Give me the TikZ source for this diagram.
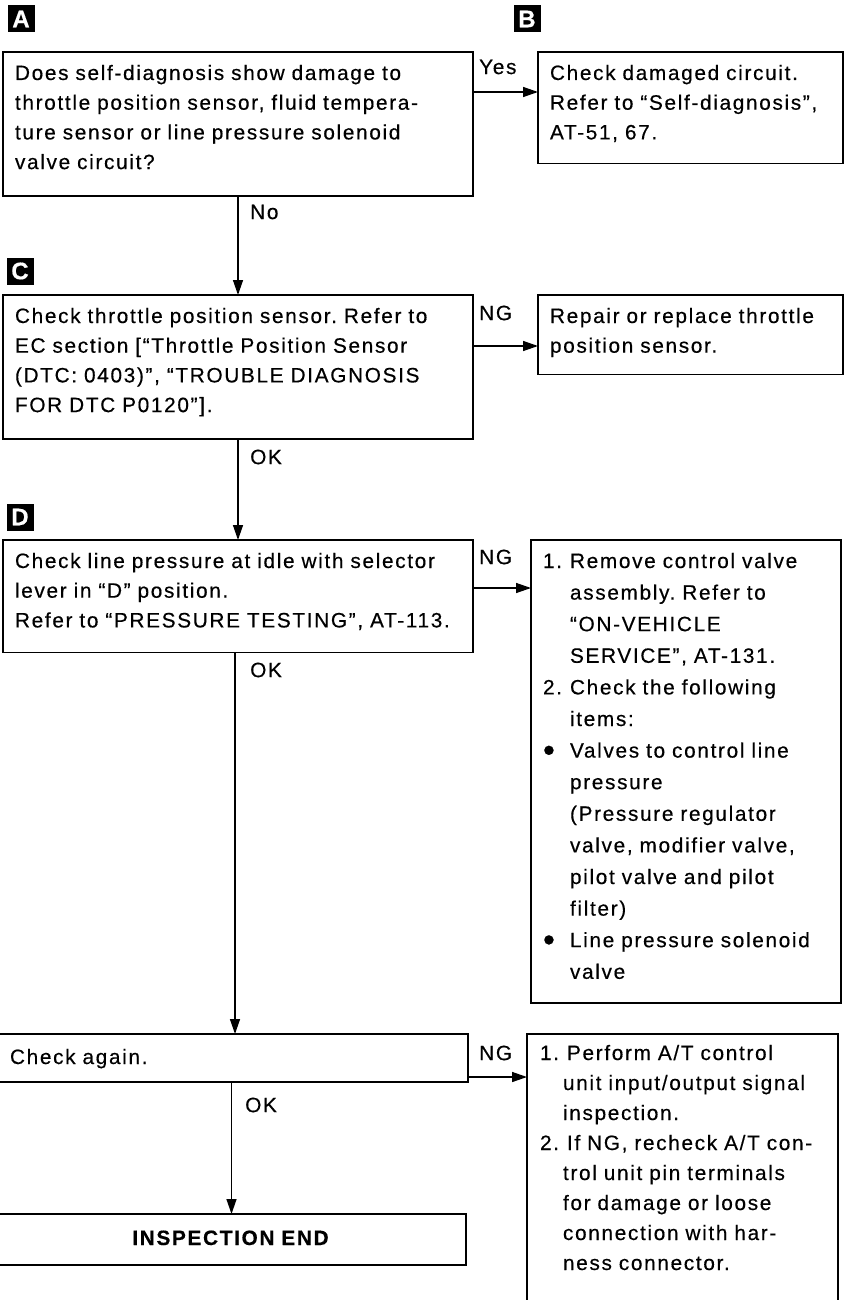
\documentclass[tikz,border=0pt]{standalone}
\usepackage{fontspec}
\setmainfont[LetterSpace=8,WordSpace=1.6,FakeBold=0.4]{Liberation Sans}
\usetikzlibrary{arrows.meta}
\frenchspacing
\newcommand{\itmE}{\makebox[27pt][l]}
\newcommand{\indE}{\hspace*{27pt}}
\newcommand{\itmF}{\makebox[27pt][l]}
\newcommand{\indF}{\hspace*{23pt}}
\newcommand{\bul}{\makebox[27pt][l]{\raisebox{-4pt}{\fontsize{34}{34}\selectfont •}}}
\newcommand{\tp}[1][28]{\rule{0pt}{#1pt}}
\newcommand{\bt}[1]{\rule[-#1pt]{0pt}{#1pt}}
\begin{document}
\begin{tikzpicture}[x=1pt,y=-1pt,
  every node/.style={font=\fontsize{20.8}{29.7}\selectfont},
  box/.style={draw, line width=1.4pt, anchor=north west, align=left, inner xsep=12pt, inner ysep=0pt, outer sep=0pt},
  lbl/.style={fill=black, text=white, minimum size=27pt, inner sep=0pt, font=\fontsize{24}{24}\selectfont\bfseries},
  tag/.style={anchor=west, inner sep=0pt},
  arr/.style={line width=1.4pt, -{Triangle[length=15pt,width=10pt]}}
]
\useasboundingbox (0,0) rectangle (845,1300);
\fill[white] (0,0) rectangle (845,1300);
\clip (0,0) rectangle (845,1300);

% labels
\node[lbl] (LA) at (21,19) {A};
\node[lbl] (LB) at (527,19) {B};
\node[lbl] (LC) at (20,271) {C};
\node[lbl] (LD) at (20,517) {D};

% boxes
\node[box, text width=446pt] (A) at (3,52)
 {\tp Does self-diagnosis show damage to\\
  throttle position sensor, fluid tempera-\\
  ture sensor or line pressure solenoid\\
  valve circuit?\bt{27}};
\node[box, text width=281pt] (B) at (538,52)
 {\tp Check damaged circuit.\\
  Refer to “Self-diagnosis”,\\
  AT-51, 67.\bt{24}};
\node[box, text width=446pt] (C) at (3,295)
 {\tp Check throttle position sensor. Refer to\\
  EC section [“Throttle Position Sensor\\
  (DTC: 0403)”, “TROUBLE DIAGNOSIS\\
  FOR DTC P0120”].\bt{27}};
\node[box, text width=281pt] (R) at (538,295)
 {\tp Repair or replace throttle\\
  position sensor.\bt{22}};
\node[box, text width=446pt] (D) at (3,540)
 {\tp Check line pressure at idle with selector\\
  lever in “D” position.\\
  Refer to “PRESSURE TESTING”, AT-113.\bt{25}};
\node[box, text width=286pt, font=\fontsize{20.8}{31.6}\selectfont] (E) at (531,540)
 {\tp\itmE{1.}Remove control valve\\
  \indE assembly. Refer to\\
  \indE “ON-VEHICLE\\
  \indE SERVICE”, AT-131.\\
  \itmE{2.}Check the following\\
  \indE items:\\
  \bul Valves to control line\\
  \indE pressure\\
  \indE (Pressure regulator\\
  \indE valve, modifier valve,\\
  \indE pilot valve and pilot\\
  \indE filter)\\
  \bul Line pressure solenoid\\
  \indE valve\bt{24}};
\node[box, text width=443pt, inner xsep=15pt] (CA) at (-5,1034)
 {\tp[30]Check again.\bt{18}};
\node[box, text width=447pt, align=center] (IE) at (-5,1214)
 {\tp[31]\bfseries INSPECTION END\bt{20}};
\node[box, draw=none, text width=285pt, inner xsep=13pt, font=\fontsize{20.8}{30}\selectfont] (F) at (527,1034)
 {\tp[26]\itmF{1.}Perform A/T control\\
  \indF unit input/output signal\\
  \indF inspection.\\
  \itmF{2.}If NG, recheck A/T con-\\
  \indF trol unit pin terminals\\
  \indF for damage or loose\\
  \indF connection with har-\\
  \indF ness connector.};
\draw[line width=1.4pt] ([yshift=-60pt]F.south west) -- (F.north west) -- (F.north east) -- ([yshift=-60pt]F.south east);

% connectors
\draw[arr] ([yshift=-40pt]A.north east) -- ([yshift=-40pt]B.north west);
\draw[arr] ([yshift=-51pt]C.north east) -- ([yshift=-51pt]R.north west);
\draw[arr] ([yshift=-48pt]D.north east) -- ([yshift=-48pt]E.north west);
\draw[arr] ([yshift=-43pt]CA.north east) -- ([yshift=-43pt]F.north west);
\draw[arr] (A.south) -- (C.north);
\draw[arr] (C.south) -- (D.north);
\draw[arr] ([xshift=-3pt]D.south) -- ([xshift=-3pt]D.south |- CA.north);
\draw[arr] (CA.south) -- (CA.south |- IE.north);

% connector labels
\node[tag] (yes) at (479,67) {Yes};
\node[tag] (ng1) at (479,313) {NG};
\node[tag] (ng2) at (479,557) {NG};
\node[tag] (ng3) at (479,1053) {NG};
\node[tag] (no) at (250,212) {No};
\node[tag] (ok1) at (250,457) {OK};
\node[tag] (ok2) at (250,670) {OK};
\node[tag] (ok3) at (245,1105) {OK};
\end{tikzpicture}
\end{document}
